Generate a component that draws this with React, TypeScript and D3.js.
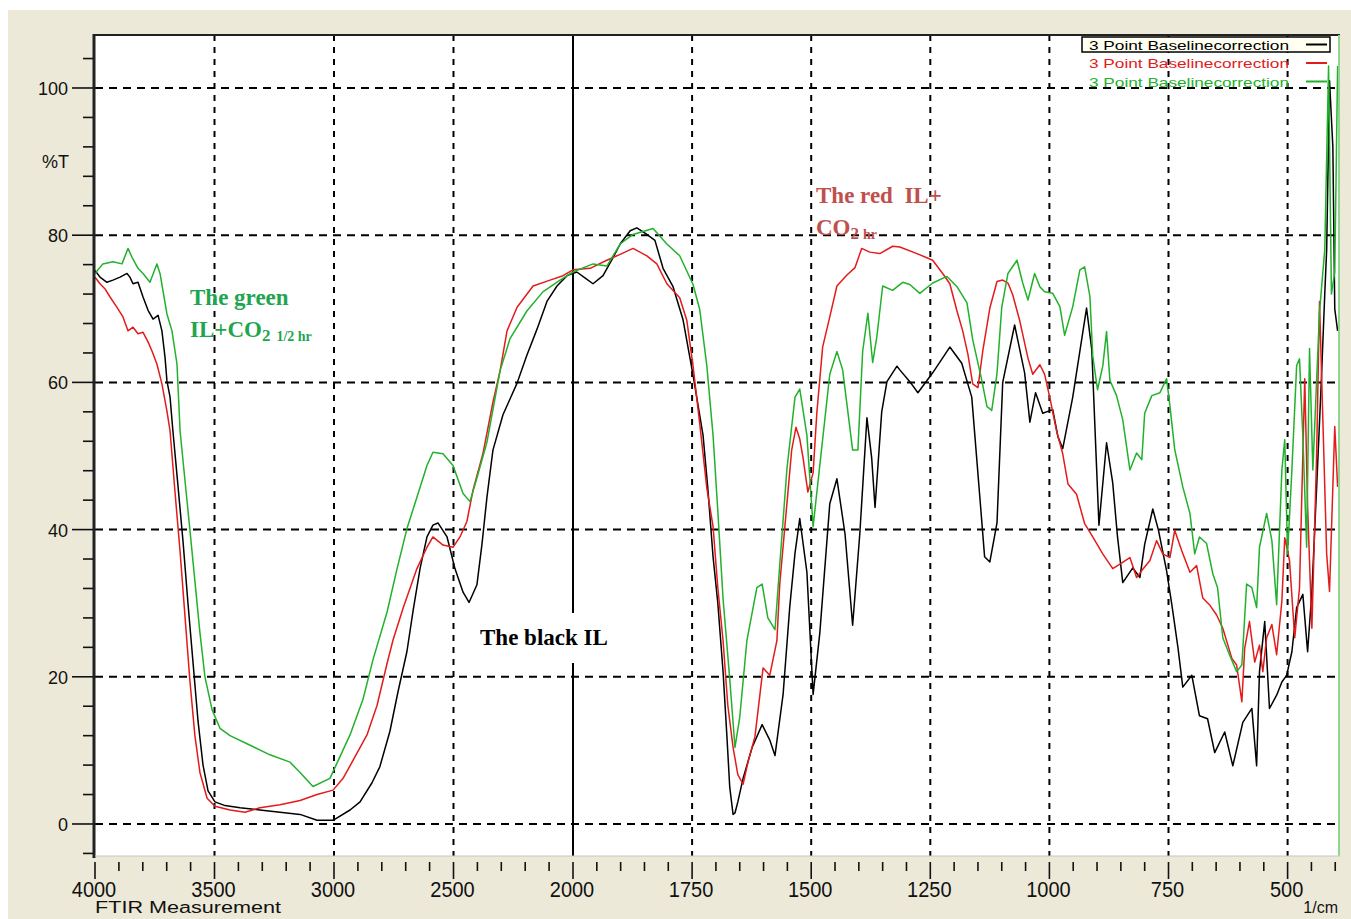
import { useEffect, useRef } from 'react';
import * as d3 from 'd3';

const W = 1351;
const H = 919;

// black: IL
const blackWn = [4000,3979,3950,3925,3895,3866,3854,3841,3820,3799,3778,3757,3736,3720,3707,3699,3686,3674,3653,3632,3611,3590,3569,3548,3527,3498,3456,3393,3310,3226,3142,3071,3004,2933,2891,2841,2808,2766,2732,2695,2669,2640,2611,2586,2565,2527,2494,2460,2435,2402,2381,2360,2335,2293,2234,2193,2151,2109,2067,2025,1992,1975,1958,1937,1918,1901,1880,1866,1845,1828,1811,1790,1769,1748,1727,1717,1706,1696,1685,1677,1671,1664,1660,1654,1643,1624,1603,1587,1576,1559,1545,1534,1524,1509,1496,1482,1461,1446,1429,1413,1398,1383,1373,1366,1352,1341,1320,1314,1293,1276,1245,1209,1184,1163,1146,1136,1125,1110,1098,1073,1052,1041,1029,1014,993,982,972,951,922,911,901,896,880,867,857,846,825,810,800,783,771,754,743,730,720,701,685,668,653,632,615,594,575,565,559,548,538,523,512,502,491,481,468,458,449,439,429,422,418,412,405,401,395];
const blackT = [75.2,74.3,73.6,73.9,74.3,74.8,74.3,73.4,73.6,71.6,69.8,68.6,69.1,67,63.4,60.2,58,53.4,46,38.5,30,22,14,8,4.5,3,2.5,2.2,1.9,1.6,1.3,0.5,0.5,1.9,3,5.6,7.8,12.6,18,23.4,29,34.7,39,40.6,40.9,39,34.7,31.5,30.1,32.5,38,44.4,50.8,55.6,59.9,63.7,67.2,71,73.1,74.5,75,74.2,73.4,74.5,76.7,78.8,80.6,81,80.1,79.3,75.5,73,68.5,61,52.8,45.6,36.3,30,20.7,12,5,1.3,1.5,3,6.2,10.4,13.5,11.4,9.3,17.6,29.5,36.8,41.5,34.2,17.6,25.9,43.5,46.9,39.4,27,39.4,55.2,49.7,43,56,60.1,62.2,61.7,60.1,58.6,61.3,64.8,62.6,58,44.4,36.3,35.6,40.9,60,67.8,61.3,54.6,58.6,55.8,56.3,52.6,51,58,70.1,64.4,48.5,40.6,51.8,46.3,39,32.8,34.8,33.5,38,42.8,39.9,34.4,29.8,23.9,18.6,20.2,14.7,14.3,9.7,12.5,7.9,13.8,15.7,7.9,20.7,27.5,15.7,17.5,19.3,20.2,23.4,29.4,31.2,23.4,31.6,45.8,60.5,72,78,101,92,70,67];

// red: IL + CO2 1 hr
const redWn = [4000,3979,3958,3937,3908,3883,3862,3841,3820,3799,3778,3762,3741,3720,3699,3686,3665,3644,3623,3603,3582,3561,3531,3498,3435,3372,3310,3226,3142,3071,3004,2962,2921,2862,2820,2778,2753,2711,2653,2611,2586,2544,2502,2473,2444,2418,2377,2335,2305,2276,2234,2167,2096,2042,2000,1964,1929,1901,1874,1845,1824,1803,1776,1761,1748,1734,1719,1706,1696,1685,1675,1664,1654,1643,1633,1618,1601,1587,1572,1566,1551,1541,1532,1524,1517,1507,1496,1488,1476,1461,1446,1425,1408,1394,1377,1356,1329,1314,1278,1245,1224,1209,1194,1182,1171,1161,1150,1140,1125,1110,1098,1087,1077,1062,1045,1035,1020,1010,999,985,972,961,943,926,909,888,867,852,831,817,804,789,775,762,747,737,722,705,691,678,664,649,636,617,607,596,590,580,569,559,552,544,533,523,512,506,496,485,475,464,458,449,439,433,426,418,412,401,395];
const redT = [74.3,73.4,72.7,71.6,70.2,68.9,67,67.5,66.6,66.8,65.5,64.3,62.5,59.8,56.1,53.4,45,37,28,19.5,12,7,3.5,2.4,1.9,1.6,2.2,2.6,3.2,4,4.6,6.2,8.6,12.1,16.1,21.8,25,29.3,34.7,37.6,39,37.9,37.6,39,41.1,45.4,50.3,57.3,61.6,67,70.2,73.1,73.9,74.5,75.3,75.5,76.6,77.4,78.2,77.2,76.1,73.4,71.5,68.4,62.2,54.4,45.6,40.4,32.1,24.9,16.1,10.4,6.7,5.4,8.3,11.9,21.2,20.2,24.9,32.6,43.5,50.8,53.9,52.3,49.7,45.1,47.7,56,64.8,68.9,73.1,74.6,75.6,78.2,77.7,77.5,78.5,78.4,77.5,76.6,74.8,73.4,69.7,67,63.8,59.8,59.3,64.2,70.1,73.7,73.9,73.5,71.9,68.3,63.3,61.1,62.4,61.1,57.9,53.4,50.3,46.2,44.8,40.8,39,36.7,34.7,35.3,36.2,33.5,34.6,35.8,38.5,36.7,36.2,39.9,37.1,34.2,35.1,30.7,29.8,28.4,26.6,22.5,21.6,16.6,23.9,27.5,22,24.3,20.7,25.3,27.1,23,30.3,38.9,35.8,25.3,32.1,60.5,43.1,26.6,50.4,71,55,36.7,31.6,54,45.8];

// green: IL + CO2 1/2 hr
const greenWn = [4000,3967,3925,3887,3862,3845,3820,3799,3770,3741,3728,3699,3678,3657,3644,3623,3603,3582,3561,3540,3510,3477,3435,3351,3268,3184,3142,3088,3017,2987,2933,2879,2837,2778,2736,2695,2653,2611,2586,2544,2502,2460,2431,2402,2360,2305,2264,2193,2126,2054,2000,1958,1929,1901,1874,1832,1803,1776,1748,1734,1719,1706,1696,1685,1671,1660,1650,1635,1614,1603,1591,1576,1566,1551,1534,1524,1509,1496,1482,1461,1446,1434,1413,1402,1392,1381,1371,1362,1350,1329,1308,1293,1272,1245,1215,1194,1173,1161,1142,1131,1121,1110,1100,1087,1068,1056,1045,1031,1020,1010,993,978,968,951,936,926,915,909,899,888,880,873,859,846,831,817,806,800,785,768,754,747,737,720,705,695,685,670,657,647,636,622,607,596,586,575,565,559,544,533,523,512,506,500,491,481,475,468,460,454,447,433,422,414,408,401,395];
const greenT = [74.8,76.1,76.4,76.1,78.2,77,75.5,74.8,73.6,76.1,74.8,69.3,67,62.5,53.4,46.5,40,33,26,20,15.5,13,12,10.7,9.4,8.4,7,5.1,6.2,8.3,12.1,16.9,22.3,28.8,34.7,40.1,44.4,48.7,50.5,50.3,48.7,44.9,43.8,47,51.9,61.6,65.9,69.7,72.3,73.9,75,76.1,75.8,78.8,80.1,80.9,78.8,77.2,73.3,69.9,62.2,52.8,42.5,30.6,19.7,10.4,14.5,24.9,32.1,32.6,28,26.4,35.2,48.2,58,59.1,52.8,40.4,48.7,61.1,64.2,61.7,50.8,50.8,64.2,69.4,62.7,66.3,73.1,72.5,73.6,73.3,72.1,73.5,74.4,73,70.8,65.8,60.3,56.7,56.2,61.2,70.2,74.8,76.6,73.5,71.2,74.8,73,72.3,72.1,70.3,66.4,70.3,75.3,75.7,71.7,63.6,59,62.2,66.9,60.3,58.2,54.9,48.1,50.4,49.5,55.8,58.2,58.6,60.5,56.8,50.9,45.8,42.2,36.7,39,38.1,34,32.1,25.3,23,20.7,21.6,32.6,32.1,29.4,37.6,42.2,38.5,29.8,48.1,52.2,36.7,48.1,62.3,63.2,52.7,37.6,64.6,48.1,69.6,78,103,72,75,103];

const xMajor = [4000, 3500, 3000, 2500, 2000, 1750, 1500, 1250, 1000, 750, 500];
const yMajor = [0, 20, 40, 60, 80, 100];
const legendNames = ['3 Point Baselinecorrection', '3 Point Baselinecorrection', '3 Point Baselinecorrection'];
const seriesColors = ['#000000', '#e31b1b', '#22b12c'];

const App = () => {
  const svgRef = useRef(null);

  useEffect(() => {
    const svg = d3.select(svgRef.current);
    svg.selectAll('*').remove();

    const left = 95, right = 1340, top = 35, bottom = 856;
    // FTIR style axis: scale doubles below 2000 1/cm
    const x = d3.scaleLinear().domain([4000, 2000, 390]).range([left, 573, right]);
    const y = d3.scaleLinear().domain([-4.35, 107.2]).range([bottom, top]);

    svg.append('rect').attr('width', W).attr('height', H).attr('fill', '#ffffff');
    svg.append('rect').attr('x', 8).attr('y', 10).attr('width', W - 8).attr('height', H - 10).attr('fill', '#ece9d8');
    svg.append('rect').attr('x', left).attr('y', top).attr('width', right - left).attr('height', bottom - top).attr('fill', '#ffffff');

    svg.append('defs').append('clipPath').attr('id', 'plotclip')
      .append('rect').attr('x', left).attr('y', top).attr('width', right - left).attr('height', bottom - top);

    // grid
    const grid = svg.append('g');
    grid.selectAll('line.h').data(yMajor).join('line')
      .attr('x1', left).attr('x2', right)
      .attr('y1', (d) => y(d)).attr('y2', (d) => y(d))
      .attr('stroke', '#000').attr('stroke-width', 2).attr('stroke-dasharray', '8,6');
    grid.selectAll('line.v').data(xMajor.filter((d) => d !== 4000 && d !== 2000)).join('line')
      .attr('x1', (d) => x(d)).attr('x2', (d) => x(d))
      .attr('y1', top).attr('y2', bottom)
      .attr('stroke', '#000').attr('stroke-width', 2).attr('stroke-dasharray', '6,6');
    svg.append('line')
      .attr('x1', x(2000)).attr('x2', x(2000)).attr('y1', top).attr('y2', bottom)
      .attr('stroke', '#000').attr('stroke-width', 2);

    // spectra
    const series = [
      { wn: blackWn, t: blackT, color: seriesColors[0] },
      { wn: redWn, t: redT, color: seriesColors[1] },
      { wn: greenWn, t: greenT, color: seriesColors[2] },
    ];
    const line = d3.line().x((d) => x(d[0])).y((d) => y(d[1]));
    const curves = svg.append('g').attr('clip-path', 'url(#plotclip)');
    series.forEach((s) => {
      curves.append('path')
        .attr('d', line(d3.zip(s.wn, s.t)))
        .attr('fill', 'none')
        .attr('stroke', s.color)
        .attr('stroke-width', 1.5)
        .attr('stroke-linejoin', 'round');
    });

    // frame
    svg.append('line').attr('x1', left - 1).attr('x2', right).attr('y1', top).attr('y2', top)
      .attr('stroke', '#222').attr('stroke-width', 2);
    svg.append('line').attr('x1', left - 1).attr('x2', left - 1).attr('y1', top - 1).attr('y2', bottom + 2)
      .attr('stroke', '#222').attr('stroke-width', 3);
    svg.append('line').attr('x1', right - 1).attr('x2', right - 1).attr('y1', top).attr('y2', bottom)
      .attr('stroke', '#8fd48f').attr('stroke-width', 2);
    svg.append('line').attr('x1', left).attr('x2', right).attr('y1', bottom).attr('y2', bottom)
      .attr('stroke', '#c8c6bb').attr('stroke-width', 1);

    // x ticks
    const xMinor = d3.range(4000, 2000, -100).concat(d3.range(2000, 399, -50));
    svg.append('g').selectAll('line').data(xMinor).join('line')
      .attr('x1', (d) => x(d)).attr('x2', (d) => x(d))
      .attr('y1', bottom + 6)
      .attr('y2', (d) => (xMajor.includes(d) ? bottom + 23 : bottom + 15))
      .attr('stroke', '#111').attr('stroke-width', 1.6);
    svg.append('g').selectAll('text').data(xMajor).join('text')
      .attr('transform', (d) => `translate(${x(d) - 1},897) scale(1,1.12)`)
      .attr('text-anchor', 'middle')
      .attr('font-family', 'Liberation Sans, Arial, sans-serif')
      .attr('font-size', 20)
      .attr('fill', '#111')
      .text((d) => d);

    // y ticks
    const yTicks = d3.range(-4, 105, 4);
    svg.append('g').selectAll('line').data(yTicks).join('line')
      .attr('x1', (d) => (yMajor.includes(d) ? left - 23 : left - 12)).attr('x2', left - 2)
      .attr('y1', (d) => y(d)).attr('y2', (d) => y(d))
      .attr('stroke', '#111').attr('stroke-width', 1.6);
    svg.append('g').selectAll('text').data(yMajor).join('text')
      .attr('x', left - 27).attr('y', (d) => y(d) + 7)
      .attr('text-anchor', 'end')
      .attr('font-family', 'Liberation Sans, Arial, sans-serif')
      .attr('font-size', 18)
      .attr('fill', '#111')
      .text((d) => d);

    svg.append('text').attr('x', 42).attr('y', 168)
      .attr('font-family', 'Liberation Sans, Arial, sans-serif').attr('font-size', 18).attr('fill', '#111')
      .text('%T');
    svg.append('text').attr('x', 95).attr('y', 913)
      .attr('font-family', 'Liberation Sans, Arial, sans-serif').attr('font-size', 16)
      .attr('textLength', 186).attr('lengthAdjust', 'spacingAndGlyphs').attr('fill', '#111')
      .text('FTIR Measurement');
    svg.append('text').attr('x', 1338).attr('y', 913).attr('text-anchor', 'end')
      .attr('font-family', 'Liberation Sans, Arial, sans-serif').attr('font-size', 16).attr('fill', '#111')
      .text('1/cm');

    // legend
    const lg = svg.append('g');
    lg.append('rect').attr('x', 1082).attr('y', 37).attr('width', 248).attr('height', 15)
      .attr('fill', '#fffff2').attr('stroke', '#000').attr('stroke-width', 1.5);
    legendNames.forEach((name, i) => {
      const cy = 44.5 + i * 18.5;
      lg.append('text').attr('x', 1089).attr('y', cy + 5)
        .attr('font-family', 'Liberation Sans, Arial, sans-serif').attr('font-size', 13)
        .attr('textLength', 200).attr('lengthAdjust', 'spacingAndGlyphs')
        .attr('fill', seriesColors[i])
        .text(name);
      lg.append('line').attr('x1', 1306).attr('x2', 1327).attr('y1', cy).attr('y2', cy)
        .attr('stroke', seriesColors[i]).attr('stroke-width', 2);
    });

    // annotations
    const serif = 'Liberation Serif, Times New Roman, serif';
    const green = '#1fa54f';
    svg.append('text').attr('x', 190).attr('y', 305)
      .attr('font-family', serif).attr('font-size', 23).attr('font-weight', 'bold').attr('fill', green)
      .text('The green');
    const g2 = svg.append('text').attr('x', 190).attr('y', 337)
      .attr('font-family', serif).attr('font-weight', 'bold').attr('fill', green);
    g2.append('tspan').attr('font-size', 23).text('IL+CO');
    g2.append('tspan').attr('font-size', 17).attr('dy', 4).text('2');
    g2.append('tspan').attr('font-size', 14).attr('dx', 6).text('1/2 hr');

    const red = '#c0504d';
    svg.append('text').attr('x', 816).attr('y', 203)
      .attr('font-family', serif).attr('font-size', 23).attr('font-weight', 'bold').attr('fill', red)
      .attr('xml:space', 'preserve')
      .text('The red  IL+');
    const r2 = svg.append('text').attr('x', 816).attr('y', 235)
      .attr('font-family', serif).attr('font-weight', 'bold').attr('fill', red);
    r2.append('tspan').attr('font-size', 23).text('CO');
    r2.append('tspan').attr('font-size', 17).attr('dy', 4).text('2');
    r2.append('tspan').attr('font-size', 14).attr('dx', 4).text('hr');

    svg.append('rect').attr('x', 472).attr('y', 613).attr('width', 146).attr('height', 50).attr('fill', '#ffffff');
    svg.append('text').attr('x', 480).attr('y', 645)
      .attr('font-family', serif).attr('font-size', 23).attr('font-weight', 'bold').attr('fill', '#000')
      .text('The black IL');
  }, []);

  return (
    <svg
      ref={svgRef}
      width={W}
      height={H}
      style={{ position: 'absolute', left: 0, top: 0, display: 'block' }}
    ></svg>
  );
};

export default App;
